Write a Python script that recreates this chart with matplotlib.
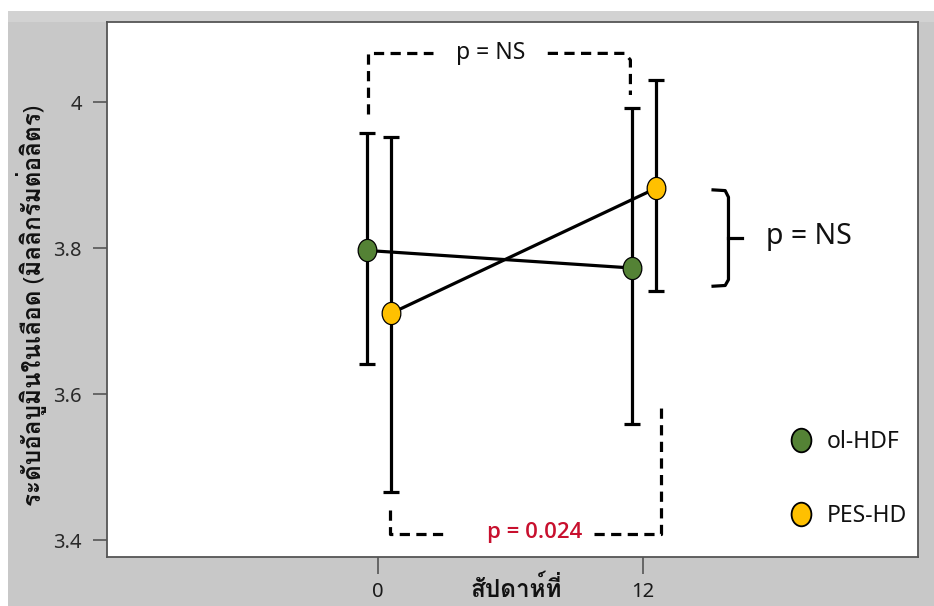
import matplotlib
matplotlib.use("Agg")
import matplotlib.pyplot as plt
from matplotlib import font_manager
from matplotlib.path import Path
from matplotlib.lines import Line2D
from matplotlib.patches import Rectangle
from fontTools.ttLib import TTFont

# data
weeks = [0, 12]
week_labels = ["0", "12"]
olhdf_mean = [3.797, 3.773]
olhdf_upper = [3.958, 3.992]
olhdf_lower = [3.641, 3.559]
peshd_mean = [3.711, 3.882]
peshd_upper = [3.952, 4.030]
peshd_lower = [3.466, 3.741]
y_ticks = [3.4, 3.6, 3.8, 4.0]
y_tick_labels = ["3.4", "3.6", "3.8", "4"]
group_names = ["ol-HDF", "PES-HD"]
p_top = "p = NS"
p_week12 = "p = NS"
p_bottom = "p = 0.024"
x_title = "สัปดาห์ที่"
y_title = "ระดับอัลบูมินในเลือด (มิลลิกรัมต่อลิตร)"


def find_thai_font():
    # look for any installed font that has Thai glyphs
    for f in font_manager.fontManager.ttflist:
        try:
            cmap = TTFont(f.fname, fontNumber=0, lazy=True).getBestCmap()
            if cmap and 0x0E2D in cmap and 0x0E31 in cmap:
                return f.name
        except Exception:
            pass
    return None


thai = find_thai_font()
fams = ["Noto Sans", "DejaVu Sans"]
if thai:
    fams = ["Noto Sans", thai, "DejaVu Sans"]
plt.rcParams["font.family"] = fams

green = "#548235"
yellow = "#ffc000"
lw = 2.3
dashes = (3.2, 2.0)

fig = plt.figure(figsize=(9.34, 6.06), dpi=100)
fig.patch.set_facecolor("white")
fig.patches.append(Rectangle((8 / 934, 0), 1, (606 - 11) / 606, transform=fig.transFigure,
                             facecolor="#c8c8c8", edgecolor="none", zorder=-10))
fig.patches.append(Rectangle((8 / 934, (606 - 22) / 606), 1, 11 / 606, transform=fig.transFigure,
                             facecolor="#d2d2d2", edgecolor="none", zorder=-9))

ax = fig.add_axes([107 / 934, (606 - 557) / 606, 811 / 934, 535 / 606])
ax.set_facecolor("white")
ax.set_xlim(-12.3, 24.5)
ax.set_ylim(3.377, 4.11)

circ = Path.unit_circle()
ellipse = Path(circ.vertices * [0.84, 1.0], circ.codes)

series = [
    (olhdf_mean, olhdf_upper, olhdf_lower, green, -0.5),
    (peshd_mean, peshd_upper, peshd_lower, yellow, 0.6),
]
for mean, upper, lower, col, dodge in series:
    xs = [w + dodge for w in weeks]
    err = [[m - lo for m, lo in zip(mean, lower)], [u - m for m, u in zip(mean, upper)]]
    ax.errorbar(xs, mean, yerr=err, fmt="none", ecolor="black", elinewidth=lw,
                capsize=6, capthick=lw, zorder=2)
    ax.plot(xs, mean, color="black", lw=lw, zorder=3)
    ax.plot(xs, mean, ls="none", marker=ellipse, ms=16, mfc=col, mec="black",
            mew=0.9, zorder=4)

# comparison brackets
ax.plot([-0.45, -0.45, 2.5], [3.984, 4.067, 4.067], color="black", lw=lw, dashes=dashes)
ax.plot([7.7, 11.2, 11.45, 11.45], [4.067, 4.067, 4.058, 4.01], color="black", lw=lw, dashes=dashes)
ax.text(5.1, 4.067, p_top, ha="center", va="center", fontsize=16.5, color="#111111")

ax.plot([0.55, 0.55, 3.2], [3.441, 3.408, 3.408], color="black", lw=lw, dashes=dashes)
ax.plot([9.8, 12.85, 12.85], [3.408, 3.408, 3.581], color="black", lw=lw, dashes=dashes)
ax.text(7.1, 3.41, p_bottom, ha="center", va="center", fontsize=16, color="#c8102e",
        fontweight="semibold", family=["Open Sans", "DejaVu Sans"])

ax.plot([15.2, 15.75, 15.9, 15.9, 15.75, 15.2], [3.880, 3.879, 3.870, 3.757, 3.749, 3.748],
        color="black", lw=lw, solid_joinstyle="round")
ax.plot([15.9, 16.5], [3.814, 3.814], color="black", lw=lw)
ax.text(17.6, 3.816, p_week12, ha="left", va="center", fontsize=20.5, color="#111111")

# axes styling
ax.set_xticks(weeks)
ax.set_xticklabels(week_labels, fontsize=14.5, color="#1a1a1a", fontweight="medium")
ax.set_yticks(y_ticks)
ax.set_yticklabels(y_tick_labels, fontsize=14.5, color="#2a2a2a", fontweight="medium")
ax.tick_params(axis="x", length=12, width=1.2, color="#555555", pad=6)
ax.tick_params(axis="y", length=10, width=1.2, color="#555555", pad=8)
for s in ax.spines.values():
    s.set_color("#555555")
    s.set_linewidth(1.3)

fig.text(32 / 934, 1 - 305 / 606, y_title, rotation=90, ha="center", va="center",
         fontsize=17.5, fontweight="bold", color="#111111")
fig.text(516 / 934, 1 - 590 / 606, x_title, ha="center", va="center",
         fontsize=17.5, fontweight="bold", color="#111111")

handles = [Line2D([], [], ls="none", marker=ellipse, ms=17, mfc=c, mec="black", mew=1.3)
           for c in (green, yellow)]
ax.legend(handles, group_names, loc="center left", bbox_to_anchor=(790 / 934, 127 / 606),
          bbox_transform=fig.transFigure, frameon=False, fontsize=16.5, borderpad=0,
          borderaxespad=0, handlelength=1.0, handletextpad=0.6, labelspacing=2.2,
          labelcolor="#111111")

fig.savefig("out.png", dpi=100)
